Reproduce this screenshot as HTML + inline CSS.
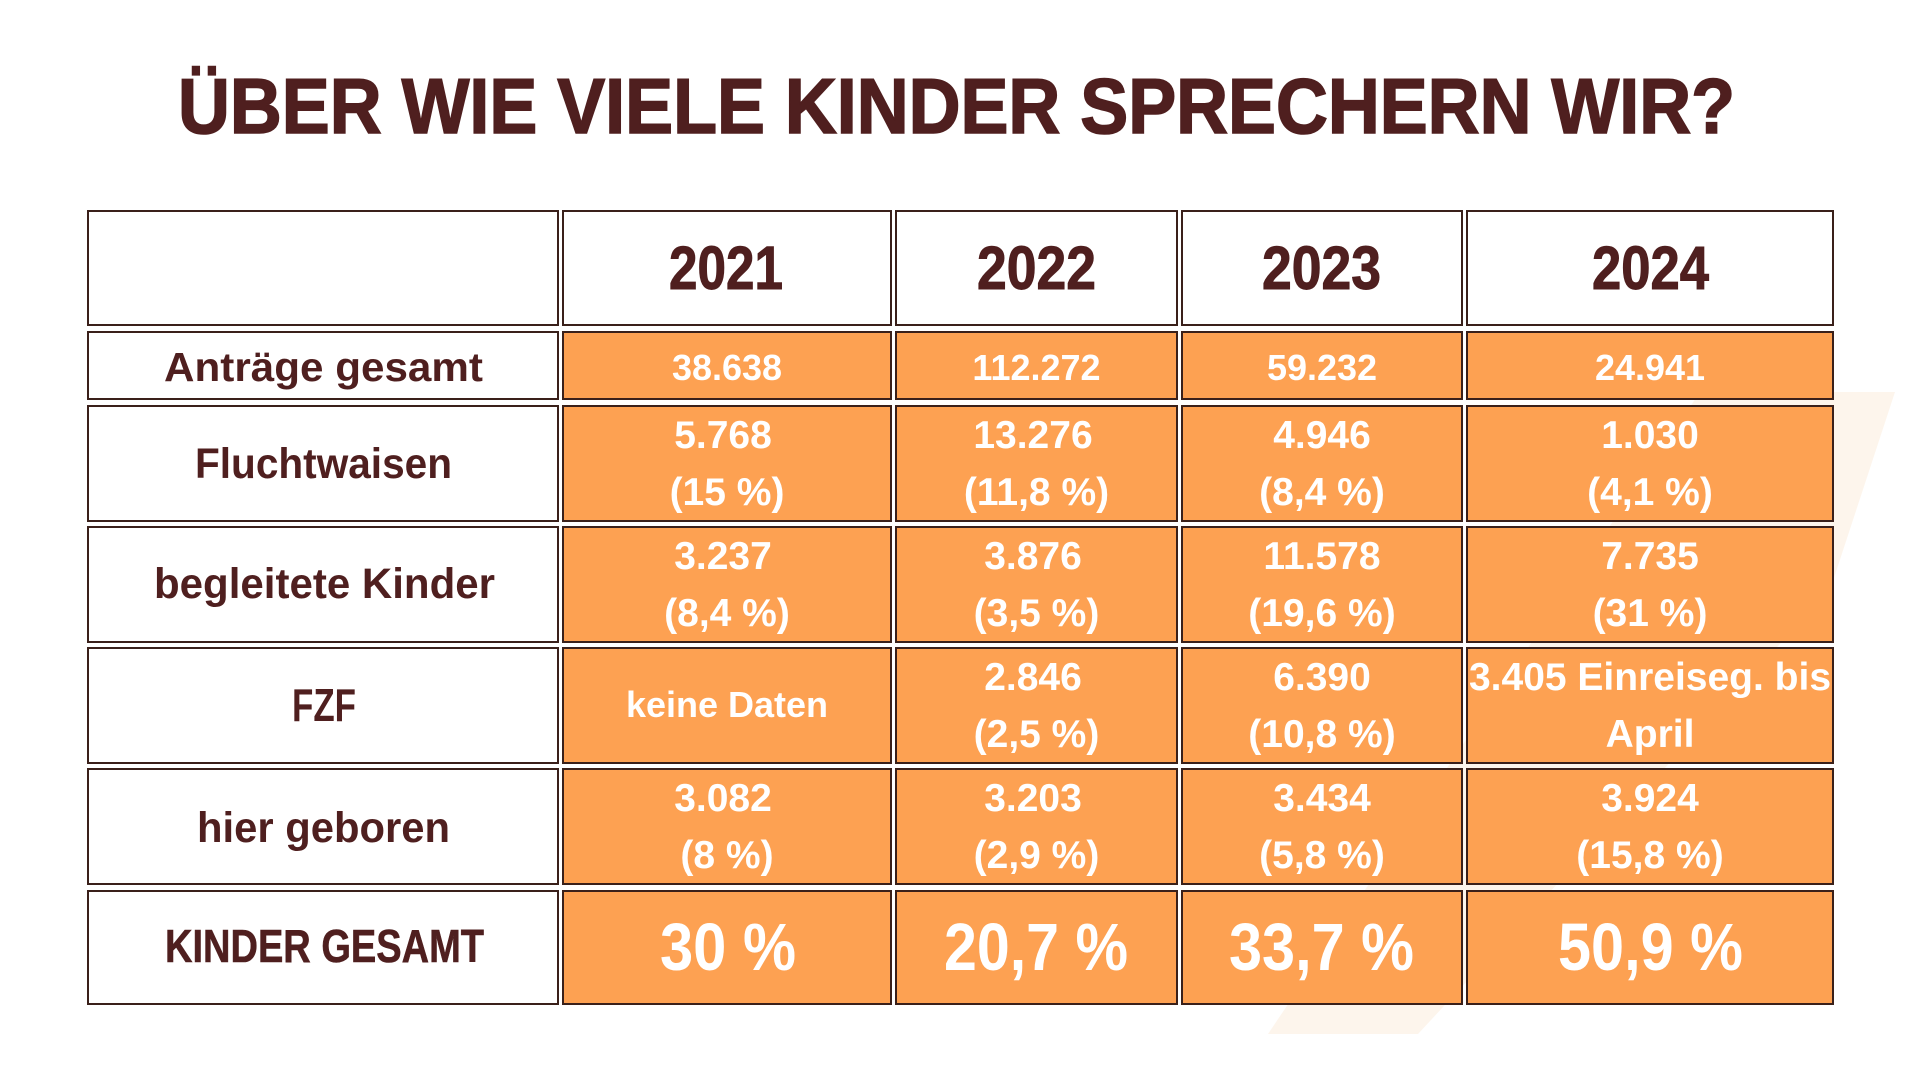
<!DOCTYPE html>
<html>
<head>
<meta charset="utf-8">
<style>
  html, body { margin: 0; padding: 0; background: #ffffff; }
  svg { display: block; }
  .lbl { font-family: "Liberation Sans", sans-serif; font-weight: bold; fill: #4f1f1f; }
  .dat { font-family: "Liberation Sans", sans-serif; font-weight: bold; fill: #ffffff; }
</style>
</head>
<body>
<svg width="1920" height="1080" viewBox="0 0 1920 1080" xmlns="http://www.w3.org/2000/svg">
  <rect x="0" y="0" width="1920" height="1080" fill="#ffffff"/>
  <!-- faint background shape -->
  <polygon points="1700,392 1895,392 1830,590 1418,1034 1268,1034" fill="#fdf5ec"/>

  <!-- Title -->
  <text class="lbl" x="178" y="133" font-size="78" textLength="1557" lengthAdjust="spacingAndGlyphs" stroke="#4f1f1f" stroke-width="1.6">ÜBER WIE VIELE KINDER SPRECHERN WIR?</text>

  <!-- Header row -->
  <g stroke="#3a201a" stroke-width="2">
    <rect x="88" y="211" width="470" height="114" fill="#ffffff"/>
    <rect x="563" y="211" width="328" height="114" fill="#ffffff"/>
    <rect x="896" y="211" width="281" height="114" fill="#ffffff"/>
    <rect x="1182" y="211" width="280" height="114" fill="#ffffff"/>
    <rect x="1467" y="211" width="366" height="114" fill="#ffffff"/>
  </g>
  <g stroke="#4f1f1f" stroke-width="1">
  <text class="lbl" x="669" y="289" font-size="61" textLength="114" lengthAdjust="spacingAndGlyphs">2021</text>
  <text class="lbl" x="977" y="289" font-size="61" textLength="119" lengthAdjust="spacingAndGlyphs">2022</text>
  <text class="lbl" x="1262" y="289" font-size="61" textLength="119" lengthAdjust="spacingAndGlyphs">2023</text>
  <text class="lbl" x="1592" y="289" font-size="61" textLength="117" lengthAdjust="spacingAndGlyphs">2024</text>
  </g>

  <!-- Body rows: label cells -->
  <g stroke="#3a201a" stroke-width="2" fill="#ffffff">
    <rect x="88" y="332" width="470" height="67"/>
    <rect x="88" y="406" width="470" height="115"/>
    <rect x="88" y="527" width="470" height="115"/>
    <rect x="88" y="648" width="470" height="115"/>
    <rect x="88" y="769" width="470" height="115"/>
    <rect x="88" y="891" width="470" height="113"/>
  </g>
  <!-- Body rows: orange cells -->
  <g stroke="#3a201a" stroke-width="2" fill="#fda152">
    <rect x="563" y="332" width="328" height="67"/>
    <rect x="896" y="332" width="281" height="67"/>
    <rect x="1182" y="332" width="280" height="67"/>
    <rect x="1467" y="332" width="366" height="67"/>

    <rect x="563" y="406" width="328" height="115"/>
    <rect x="896" y="406" width="281" height="115"/>
    <rect x="1182" y="406" width="280" height="115"/>
    <rect x="1467" y="406" width="366" height="115"/>

    <rect x="563" y="527" width="328" height="115"/>
    <rect x="896" y="527" width="281" height="115"/>
    <rect x="1182" y="527" width="280" height="115"/>
    <rect x="1467" y="527" width="366" height="115"/>

    <rect x="563" y="648" width="328" height="115"/>
    <rect x="896" y="648" width="281" height="115"/>
    <rect x="1182" y="648" width="280" height="115"/>
    <rect x="1467" y="648" width="366" height="115"/>

    <rect x="563" y="769" width="328" height="115"/>
    <rect x="896" y="769" width="281" height="115"/>
    <rect x="1182" y="769" width="280" height="115"/>
    <rect x="1467" y="769" width="366" height="115"/>

    <rect x="563" y="891" width="328" height="113"/>
    <rect x="896" y="891" width="281" height="113"/>
    <rect x="1182" y="891" width="280" height="113"/>
    <rect x="1467" y="891" width="366" height="113"/>
  </g>

  <!-- Row labels -->
  <text class="lbl" x="164" y="381" font-size="41" textLength="319" lengthAdjust="spacingAndGlyphs">Anträge gesamt</text>
  <text class="lbl" x="195" y="478" font-size="43" textLength="257" lengthAdjust="spacingAndGlyphs">Fluchtwaisen</text>
  <text class="lbl" x="154" y="598" font-size="43" textLength="341" lengthAdjust="spacingAndGlyphs">begleitete Kinder</text>
  <text class="lbl" x="292" y="721" font-size="46" textLength="64" lengthAdjust="spacingAndGlyphs">FZF</text>
  <text class="lbl" x="197" y="842" font-size="43" textLength="253" lengthAdjust="spacingAndGlyphs">hier geboren</text>
  <text class="lbl" x="165" y="962" font-size="46" textLength="319" lengthAdjust="spacingAndGlyphs" stroke="#4f1f1f" stroke-width="0.6">KINDER GESAMT</text>

  <!-- Row 1: Anträge gesamt -->
  <g class="dat" font-size="36" text-anchor="middle">
    <text x="727" y="380">38.638</text>
    <text x="1036.5" y="380">112.272</text>
    <text x="1322" y="380">59.232</text>
    <text x="1650" y="380">24.941</text>
  </g>

  <!-- Rows 2-5 -->
  <g class="dat" font-size="39" text-anchor="middle">
    <!-- Fluchtwaisen -->
    <text x="723" y="448">5.768</text>
    <text x="727" y="505">(15 %)</text>
    <text x="1033" y="448">13.276</text>
    <text x="1036.5" y="505">(11,8 %)</text>
    <text x="1322" y="448">4.946</text>
    <text x="1322" y="505">(8,4 %)</text>
    <text x="1650" y="448">1.030</text>
    <text x="1650" y="505">(4,1 %)</text>

    <!-- begleitete Kinder -->
    <text x="723" y="569">3.237</text>
    <text x="727" y="626">(8,4 %)</text>
    <text x="1033" y="569">3.876</text>
    <text x="1036.5" y="626">(3,5 %)</text>
    <text x="1322" y="569">11.578</text>
    <text x="1322" y="626">(19,6 %)</text>
    <text x="1650" y="569">7.735</text>
    <text x="1650" y="626">(31 %)</text>

    <!-- FZF -->
    <text x="1033" y="690">2.846</text>
    <text x="1036.5" y="747">(2,5 %)</text>
    <text x="1322" y="690">6.390</text>
    <text x="1322" y="747">(10,8 %)</text>
    <text x="1650" y="690">3.405 Einreiseg. bis</text>
    <text x="1650" y="747">April</text>

    <!-- hier geboren -->
    <text x="723" y="811">3.082</text>
    <text x="727" y="868">(8 %)</text>
    <text x="1033" y="811">3.203</text>
    <text x="1036.5" y="868">(2,9 %)</text>
    <text x="1322" y="811">3.434</text>
    <text x="1322" y="868">(5,8 %)</text>
    <text x="1650" y="811">3.924</text>
    <text x="1650" y="868">(15,8 %)</text>
  </g>
  <text class="dat" x="727" y="717" font-size="36" text-anchor="middle">keine Daten</text>

  <!-- Row 6: KINDER GESAMT -->
  <text class="dat" x="660" y="970" font-size="67" textLength="136" lengthAdjust="spacingAndGlyphs">30 %</text>
  <text class="dat" x="944" y="970" font-size="67" textLength="184" lengthAdjust="spacingAndGlyphs">20,7 %</text>
  <text class="dat" x="1229" y="970" font-size="67" textLength="185" lengthAdjust="spacingAndGlyphs">33,7 %</text>
  <text class="dat" x="1558" y="970" font-size="67" textLength="185" lengthAdjust="spacingAndGlyphs">50,9 %</text>
</svg>
</body>
</html>
